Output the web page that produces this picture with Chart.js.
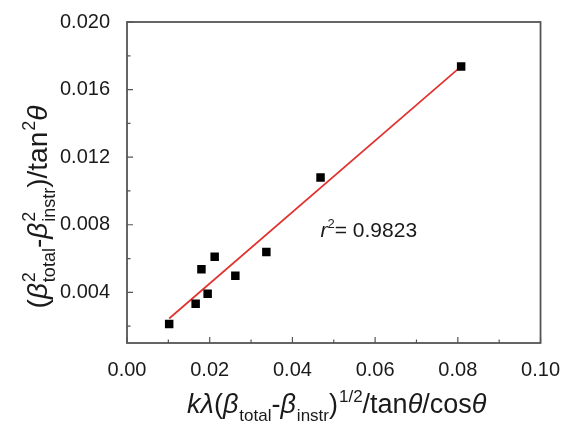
<!DOCTYPE html>
<html>
<head>
<meta charset="utf-8">
<script src="https://cdn.jsdelivr.net/npm/chart.js@4.4.1/dist/chart.umd.min.js"></script>
<style>
  html, body { margin: 0; padding: 0; background: #fff; }
  #wrap { width: 567px; height: 426px; position: relative; }
</style>
</head>
<body>
<div id="wrap"><canvas id="chart" width="567" height="426"></canvas></div>
<script>
// =================== DATA ===================
const pointsX = [0.0102, 0.0166, 0.0195, 0.0180, 0.0212, 0.0262, 0.0337, 0.0468, 0.0808];
const pointsY = [0.00213, 0.00332, 0.00391, 0.00536, 0.00611, 0.00498, 0.00639, 0.01080, 0.01737];

// linear fit end points
const fitX = [0.0102, 0.0808];
const fitY = [0.00245, 0.01737];

const xTicks = [0.00, 0.02, 0.04, 0.06, 0.08, 0.10];
const xMinor = [0.01, 0.03, 0.05, 0.07, 0.09];
const yTicks = [0.004, 0.008, 0.012, 0.016, 0.020];
const yMinor = [0.002, 0.006, 0.010, 0.014, 0.018];

const r2Text = "0.9823";

// =================== HELPERS ===================
const FONT = "'Liberation Sans', Arial, sans-serif";

function fontStr(size, italic) {
  return (italic ? "italic " : "") + size + "px " + FONT;
}

// parts: {t, i} plain text, {sub}, {sup}, or both sup+sub stacked
function richWidth(ctx, parts, M, S) {
  let w = 0;
  parts.forEach(p => {
    if (p.t !== undefined) {
      ctx.font = fontStr(M, p.i);
      w += ctx.measureText(p.t).width;
    } else {
      ctx.font = fontStr(S, false);
      const a = p.sup ? ctx.measureText(p.sup).width : 0;
      const b = p.sub ? ctx.measureText(p.sub).width : 0;
      w += Math.max(a, b) + 1;
    }
  });
  return w;
}

function drawRich(ctx, parts, cx, baseY, M, S) {
  const total = richWidth(ctx, parts, M, S);
  let x = cx - total / 2;
  ctx.textBaseline = "alphabetic";
  ctx.textAlign = "left";
  parts.forEach(p => {
    if (p.t !== undefined) {
      ctx.font = fontStr(M, p.i);
      ctx.fillText(p.t, x, baseY);
      x += ctx.measureText(p.t).width;
    } else {
      ctx.font = fontStr(S, false);
      let w = 0;
      if (p.sup) {
        ctx.fillText(p.sup, x + 1, baseY - M * 0.42);
        w = Math.max(w, ctx.measureText(p.sup).width);
      }
      if (p.sub) {
        ctx.fillText(p.sub, x + 1, baseY + M * 0.3);
        w = Math.max(w, ctx.measureText(p.sub).width);
      }
      x += w + 1;
    }
  });
}

const xTitle = [
  { t: "k", i: true }, { t: "λ", i: true }, { t: "(" }, { t: "β", i: true }, { sub: "total" },
  { t: "-" }, { t: "β", i: true }, { sub: "instr" }, { t: ")" }, { sup: "1/2" },
  { t: "/tan" }, { t: "θ", i: true }, { t: "/cos" }, { t: "θ", i: true }
];

const yTitle = [
  { t: "(" }, { t: "β", i: true }, { sup: "2", sub: "total" }, { t: "-" },
  { t: "β", i: true }, { sup: "2", sub: "instr" }, { t: ")/tan" }, { sup: "2" }, { t: "θ", i: true }
];

// =================== FRAME / TICKS / TITLES PLUGIN ===================
const framePlugin = {
  id: "frame",
  beforeDatasetsDraw(chart) {
    const { ctx, chartArea: a, scales: { x, y } } = chart;
    ctx.save();
    ctx.strokeStyle = "#555";
    ctx.lineWidth = 1.8;
    ctx.strokeRect(a.left, a.top, a.right - a.left, a.bottom - a.top);

    ctx.lineWidth = 1.2;
    ctx.beginPath();
    xTicks.forEach(v => {
      const px = x.getPixelForValue(v);
      ctx.moveTo(px, a.bottom); ctx.lineTo(px, a.bottom - 6);
    });
    xMinor.forEach(v => {
      const px = x.getPixelForValue(v);
      ctx.moveTo(px, a.bottom); ctx.lineTo(px, a.bottom - 3.5);
    });
    yTicks.forEach(v => {
      const py = y.getPixelForValue(v);
      ctx.moveTo(a.left, py); ctx.lineTo(a.left + 6, py);
    });
    yMinor.forEach(v => {
      const py = y.getPixelForValue(v);
      ctx.moveTo(a.left, py); ctx.lineTo(a.left + 3.5, py);
    });
    ctx.stroke();
    ctx.restore();
  },
  afterDraw(chart) {
    const { ctx, chartArea: a, scales: { x, y } } = chart;
    ctx.save();
    ctx.fillStyle = "#1a1a1a";

    // x axis title
    drawRich(ctx, xTitle, (a.left + a.right) / 2 + 3, 413, 27, 17);

    // y axis title (rotated)
    ctx.translate(47, 207);
    ctx.rotate(-Math.PI / 2);
    drawRich(ctx, yTitle, 0, 0, 28, 18);
    ctx.setTransform(1, 0, 0, 1, 0, 0);

    // r^2 annotation
    const tx = x.getPixelForValue(0.0468);
    const ty = y.getPixelForValue(0.00725);
    ctx.textAlign = "left";
    ctx.textBaseline = "alphabetic";
    ctx.font = fontStr(21, true);
    ctx.fillText("r", tx, ty);
    let w = ctx.measureText("r").width;
    ctx.font = fontStr(13, false);
    ctx.fillText("2", tx + w, ty - 9);
    w += ctx.measureText("2").width;
    ctx.font = fontStr(21, false);
    ctx.fillText("= " + r2Text, tx + w, ty);
    ctx.restore();
  }
};

// =================== CHART ===================
const ctx = document.getElementById("chart").getContext("2d");

new Chart(ctx, {
  type: "scatter",
  data: {
    datasets: [
      {
        type: "line",
        label: "fit",
        data: fitX.map((v, i) => ({ x: v, y: fitY[i] })),
        borderColor: "#e2322f",
        borderWidth: 1.7,
        pointRadius: 0,
        fill: false,
        order: 2
      },
      {
        label: "data",
        data: pointsX.map((v, i) => ({ x: v, y: pointsY[i] })),
        pointStyle: "rect",
        pointRadius: 6,
        backgroundColor: "#000",
        borderColor: "#000",
        borderWidth: 0,
        order: 1
      }
    ]
  },
  options: {
    responsive: false,
    animation: false,
    devicePixelRatio: 1,
    layout: { padding: { left: 0, top: 22, right: 24, bottom: 0 } },
    plugins: { legend: { display: false }, tooltip: { enabled: false } },
    scales: {
      x: {
        type: "linear",
        min: 0,
        max: 0.1,
        grid: { display: false },
        border: { display: false },
        afterBuildTicks: s => { s.ticks = xTicks.map(v => ({ value: v })); },
        afterFit: s => { s.height = 83; },
        ticks: {
          padding: 7,
          color: "#1a1a1a",
          font: { family: FONT, size: 20 },
          callback: v => Number(v).toFixed(2)
        }
      },
      y: {
        type: "linear",
        min: 0.001,
        max: 0.020,
        grid: { display: false },
        border: { display: false },
        afterBuildTicks: s => { s.ticks = yTicks.map(v => ({ value: v })); },
        afterFit: s => { s.width = 127; },
        ticks: {
          padding: 9,
          color: "#1a1a1a",
          font: { family: FONT, size: 20 },
          callback: v => Number(v).toFixed(3)
        }
      }
    }
  },
  plugins: [framePlugin]
});
</script>
</body>
</html>
